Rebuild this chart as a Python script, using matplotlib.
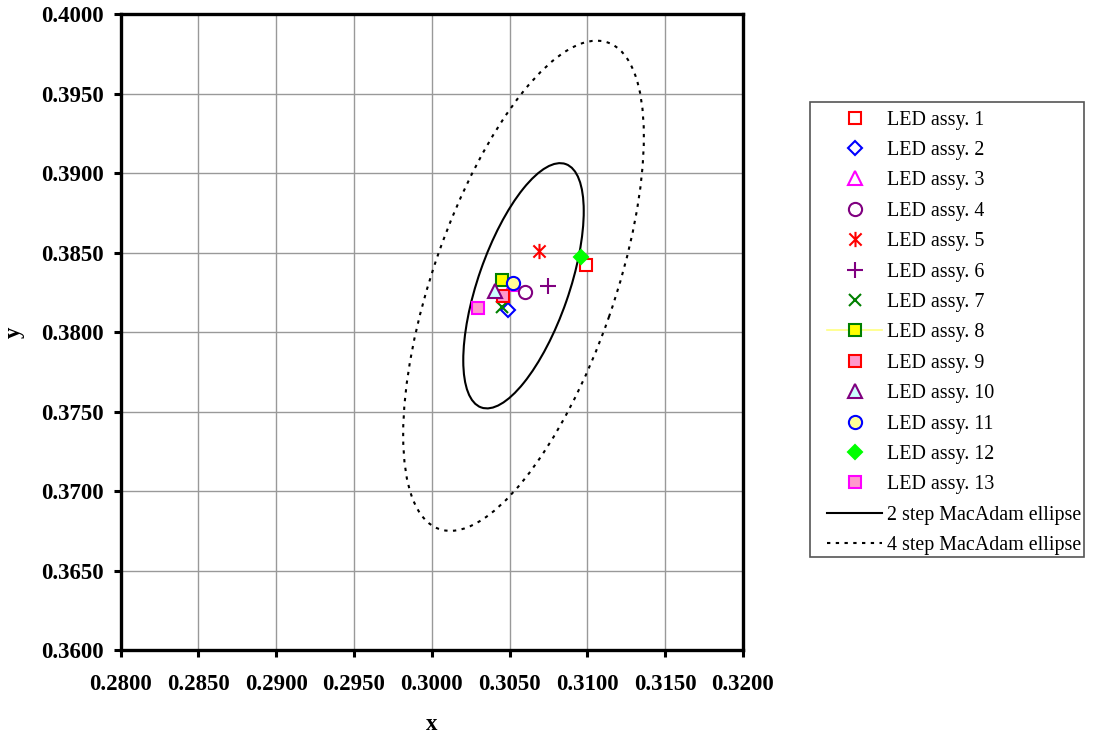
import matplotlib
matplotlib.use("Agg")
import matplotlib.pyplot as plt
from matplotlib.patches import Ellipse, Rectangle
from matplotlib.lines import Line2D
from matplotlib.path import Path

plt.rcParams['font.family'] = ['Liberation Serif', 'DejaVu Serif']

# ---- data ----
labels = [f"LED assy. {i}" for i in range(1, 14)]
x_vals = [0.3099, 0.3049, 0.3052, 0.3060, 0.3069, 0.3075, 0.3045,
          0.3045, 0.3046, 0.3041, 0.3052, 0.3096, 0.3030]
y_vals = [0.3842, 0.3814, 0.3830, 0.3825, 0.3851, 0.3829, 0.3816,
          0.3833, 0.3823, 0.3826, 0.3831, 0.3847, 0.3815]

ellipse_center = (0.30590, 0.38292)
ellipse2_axes = (0.01624, 0.00584)   # full width, height (2-step)
ellipse4_axes = (0.03246, 0.01166)   # full width, height (4-step)
ellipse_angle = 70.4
ellipse_labels = ["2 step MacAdam ellipse", "4 step MacAdam ellipse"]

x_ticks = [0.2800, 0.2850, 0.2900, 0.2950, 0.3000, 0.3050, 0.3100, 0.3150, 0.3200]
y_ticks = [0.3600, 0.3650, 0.3700, 0.3750, 0.3800, 0.3850, 0.3900, 0.3950, 0.4000]

# ---- styles ----
asterisk = Path([(0, -1), (0, 1), (-0.8, -0.8), (0.8, 0.8), (-0.8, 0.8), (0.8, -0.8)],
                [Path.MOVETO, Path.LINETO, Path.MOVETO, Path.LINETO, Path.MOVETO, Path.LINETO])
styles = [
    dict(marker='s', mfc='white', mec='#FF0000', ms=9),
    dict(marker='D', mfc='white', mec='#0000FF', ms=7),
    dict(marker='^', mfc='white', mec='#FF00FF', ms=9.5),
    dict(marker='o', mfc='white', mec='#800080', ms=9.5),
    dict(marker=asterisk, mfc='none', mec='#FF0000', ms=11),
    dict(marker='+', mfc='none', mec='#800080', ms=12),
    dict(marker='x', mfc='none', mec='#008000', ms=9),
    dict(marker='s', mfc='#FFFF00', mec='#008000', ms=9),
    dict(marker='s', mfc='#FF99CC', mec='#FF0000', ms=9),
    dict(marker='^', mfc='#CCFFFF', mec='#800080', ms=9.5),
    dict(marker='o', mfc='#FFFF99', mec='#0000FF', ms=9.5),
    dict(marker='D', mfc='#00FF00', mec='#00FF00', ms=7.5),
    dict(marker='s', mfc='#FF99CC', mec='#FF00FF', ms=9),
]

W, H = 1094, 738
fig = plt.figure(figsize=(W / 100, H / 100), dpi=100)
ax = fig.add_axes([120.5 / W, 1 - 650.2 / H, (742.9 - 120.5) / W, (650.2 - 14.2) / H])

dotted = (0, (1.6, 2.6))
# ellipses
e2 = Ellipse(ellipse_center, ellipse2_axes[0], ellipse2_axes[1], angle=ellipse_angle,
             fill=False, ec='black', lw=1.5, zorder=3)
e4 = Ellipse(ellipse_center, ellipse4_axes[0], ellipse4_axes[1], angle=ellipse_angle,
             fill=False, ec='black', lw=1.5, linestyle=dotted, zorder=3)
ax.add_patch(e2)
ax.add_patch(e4)

handles = []
for i, (xv, yv, lab, st) in enumerate(zip(x_vals, y_vals, labels, styles)):
    ls = '-' if i == 7 else 'none'
    h, = ax.plot([xv], [yv], linestyle=ls, color='#FFFF80', lw=1.2,
                 mew=1.5, label=lab, zorder=4, **st)
    handles.append(h)
handles.append(Line2D([], [], color='black', lw=1.5, label=ellipse_labels[0]))
handles.append(Line2D([], [], color='black', lw=1.5, linestyle=dotted, label=ellipse_labels[1]))

ax.set_xlim(0.28, 0.32)
ax.set_ylim(0.36, 0.40)
ax.set_xticks(x_ticks)
ax.set_yticks(y_ticks)
ax.set_xticklabels([f"{v:.4f}" for v in x_ticks])
ax.set_yticklabels([f"{v:.4f}" for v in y_ticks])
ax.grid(True, color='#999999', lw=1.0, zorder=0)
ax.set_axisbelow(True)
for s in ax.spines.values():
    s.set_linewidth(2.4)
ax.tick_params(axis='both', direction='out', length=5, width=2.2,
               labelsize=16.5)
ax.tick_params(axis='x', pad=12)
ax.tick_params(axis='y', pad=7)
for t in ax.get_xticklabels() + ax.get_yticklabels():
    t.set_fontweight('bold')

ax.set_xlabel('x', fontsize=16.5, fontweight='bold')
ax.set_ylabel('y', fontsize=16.5, fontweight='bold')
ax.xaxis.set_label_coords(0.5, -0.1176)
ax.xaxis.label.set_verticalalignment('center')
ax.yaxis.set_label_coords(-0.171, 0.5)
ax.yaxis.label.set_verticalalignment('center')

leg = fig.legend(handles=handles, loc='center left',
                 bbox_to_anchor=(827 / W, 1 - 332.8 / H), bbox_transform=fig.transFigure,
                 frameon=False, fontsize=14.4, borderpad=0, borderaxespad=0,
                 handlelength=2.75, handletextpad=0.24, labelspacing=0.57,
                 numpoints=1)

fig.patches.append(Rectangle((810 / W, 1 - 556.7 / H), (1084 - 810) / W, (556.7 - 101.7) / H,
                             transform=fig.transFigure, fill=False, ec='#555555', lw=1.2))

fig.savefig('out.png', dpi=100)
